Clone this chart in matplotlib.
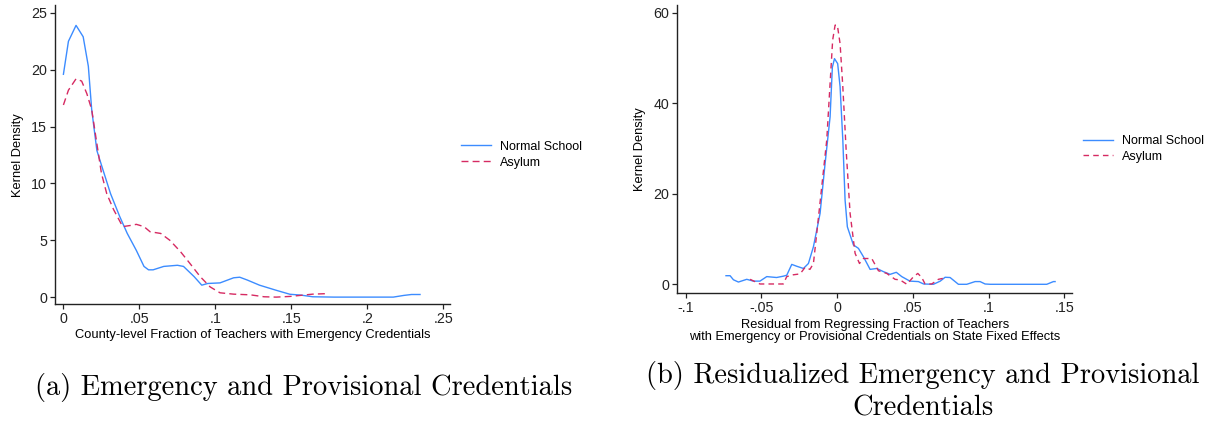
import numpy as np
import matplotlib
matplotlib.use("Agg")
import matplotlib.pyplot as plt

# ---- data ----
# panel (a): county-level fraction of teachers with emergency credentials
a_normal_x = [0.0, 0.0033, 0.0083, 0.013, 0.0164, 0.0186, 0.022, 0.026, 0.031, 0.037, 0.042,
              0.048, 0.053, 0.056, 0.059, 0.066, 0.075, 0.079, 0.086, 0.091, 0.095, 0.103,
              0.112, 0.116, 0.121, 0.129, 0.14, 0.149, 0.156, 0.164, 0.178, 0.217, 0.224,
              0.229, 0.2346]
a_normal_y = [19.6, 22.5, 23.9, 22.9, 20.3, 16.5, 12.9, 11.2, 9.1, 7.1, 5.6,
              4.1, 2.7, 2.4, 2.4, 2.7, 2.8, 2.7, 1.8, 1.05, 1.2, 1.25,
              1.7, 1.75, 1.5, 1.05, 0.6, 0.25, 0.18, 0.03, 0.0, 0.0, 0.15,
              0.23, 0.23]
a_asylum_x = [0.0, 0.0033, 0.0083, 0.012, 0.0154, 0.0186, 0.022, 0.025, 0.0285, 0.033, 0.039,
              0.044, 0.048, 0.053, 0.057, 0.064, 0.070, 0.077, 0.083, 0.090, 0.0965, 0.103,
              0.112, 0.123, 0.132, 0.140, 0.149, 0.158, 0.164, 0.172]
a_asylum_y = [16.9, 18.2, 19.2, 19.0, 17.9, 16.5, 13.5, 10.9, 9.1, 7.7, 6.2,
              6.3, 6.4, 6.2, 5.75, 5.6, 5.0, 4.0, 3.0, 1.8, 0.9, 0.38,
              0.26, 0.2, 0.03, 0.0, 0.06, 0.18, 0.26, 0.3]

# panel (b): residualized version
b_normal_x = [-0.0734, -0.0707, -0.0685, -0.0652, -0.0597, -0.0553, -0.051, -0.0465, -0.040,
              -0.0355, -0.0333, -0.030, -0.0268, -0.0223, -0.019, -0.0157, -0.0113, -0.008,
              -0.0047, -0.0032, -0.0018, 0.0003, 0.0019, 0.0037, 0.0052, 0.0067, 0.0107,
              0.014, 0.0173, 0.0217, 0.0261, 0.0305, 0.0349, 0.039, 0.0426, 0.048, 0.0536,
              0.057, 0.0635, 0.068, 0.0712, 0.0745, 0.080, 0.0855, 0.091, 0.0943, 0.0976,
              0.101, 0.1383, 0.1427, 0.1438]
b_normal_y = [1.9, 1.9, 1.0, 0.5, 1.1, 0.7, 0.7, 1.7, 1.5,
              1.8, 2.0, 4.4, 4.0, 3.5, 4.6, 8.3, 15.7, 26.7,
              37.0, 48.0, 49.9, 48.8, 43.7, 31.9, 18.6, 12.7, 8.7,
              7.95, 6.1, 3.3, 3.5, 2.8, 2.2, 2.65, 1.7, 0.7, 0.6,
              0.07, 0.0, 0.7, 1.55, 1.5, 0.0, 0.0, 0.6, 0.6, 0.07,
              0.0, 0.0, 0.6, 0.6]
b_asylum_x = [-0.0575, -0.051, -0.0356, -0.0333, -0.029, -0.0245, -0.0212, -0.018, -0.0157,
              -0.0135, -0.0102, -0.0069, -0.0047, -0.003, -0.0014, 0.0001, 0.0019, 0.0037,
              0.0059, 0.0085, 0.0118, 0.0147, 0.0173, 0.0228, 0.0272, 0.0327, 0.0382,
              0.0415, 0.046, 0.0504, 0.0532, 0.0558, 0.058, 0.0624, 0.0668, 0.0697]
b_asylum_y = [1.1, 0.07, 0.07, 1.7, 2.1, 2.3, 3.75, 3.3, 4.6,
              11.3, 21.6, 31.9, 44.4, 54.0, 57.3, 57.3, 53.2, 43.7,
              29.7, 15.7, 6.85, 4.6, 5.7, 5.7, 3.0, 2.4, 1.1,
              0.96, 0.0, 1.7, 2.4, 1.5, 0.07, 0.07, 1.1, 1.3]

a_xticks = [0, 0.05, 0.1, 0.15, 0.2, 0.25]
a_xlabels = ["0", ".05", ".1", ".15", ".2", ".25"]
a_yticks = [0, 5, 10, 15, 20, 25]
b_xticks = [-0.1, -0.05, 0, 0.05, 0.1, 0.15]
b_xlabels = ["-.1", "-.05", "0", ".05", ".1", ".15"]
b_yticks = [0, 20, 40, 60]

series_names = ["Normal School", "Asylum"]
blue = "#3c8cff"
red = "#d62a62"

plt.rcParams["font.family"] = "Liberation Sans"

fig = plt.figure(figsize=(12.1, 4.29), dpi=100)
ax1 = fig.add_axes([0.0455, 0.291, 0.3265, 0.697])
ax2 = fig.add_axes([0.5598, 0.3177, 0.3262, 0.670])


def style(ax):
    for s in ["top", "right"]:
        ax.spines[s].set_visible(False)
    for s in ["left", "bottom"]:
        ax.spines[s].set_linewidth(1.0)
        ax.spines[s].set_color("#222222")
    ax.tick_params(direction="out", length=3.8, width=0.9, labelsize=10.3,
                   colors="#222222", pad=2)
    ax.set_ylabel("Kernel Density", fontsize=9.3, labelpad=5)


# panel (a)
ax1.plot(a_normal_x, a_normal_y, color=blue, lw=1.0, label=series_names[0])
ax1.plot(a_asylum_x, a_asylum_y, color=red, lw=1.0, dashes=(5, 3), label=series_names[1])
ax1.set_xlim(-0.0055, 0.2544)
ax1.set_ylim(-0.62, 25.68)
ax1.set_xticks(a_xticks, a_xlabels)
ax1.set_yticks(a_yticks)
style(ax1)
ax1.set_xlabel("County-level Fraction of Teachers with Emergency Credentials", fontsize=9.3, labelpad=2)
ax1.legend(loc="center left", bbox_to_anchor=(1.028, 0.5), frameon=False, fontsize=9,
           handlelength=2.4, handletextpad=0.7, borderpad=0, borderaxespad=0, labelspacing=0.3)

# panel (b)
ax2.plot(b_normal_x, b_normal_y, color=blue, lw=1.0, label=series_names[0])
ax2.plot(b_asylum_x, b_asylum_y, color=red, lw=1.0, dashes=(4, 3), label=series_names[1])
ax2.set_xlim(-0.1055, 0.155)
ax2.set_ylim(-1.86, 61.7)
ax2.set_xticks(b_xticks, b_xlabels)
ax2.set_yticks(b_yticks)
style(ax2)
ax2.set_xlabel("Residual from Regressing Fraction of Teachers\n"
               "with Emergency or Provisional Credentials on State Fixed Effects",
               fontsize=9.3, labelpad=3, linespacing=1.0)
ax2.legend(loc="center left", bbox_to_anchor=(1.028, 0.5), frameon=False, fontsize=9,
           handlelength=2.4, handletextpad=0.7, borderpad=0, borderaxespad=0, labelspacing=0.3)

# captions
fig.text(0.251, 0.0956, "(a) Emergency and Provisional Credentials",
         family="cmr10", fontsize=20.5, ha="center", va="center")
fig.text(0.763, 0.0874, "(b) Residualized Emergency and Provisional\nCredentials",
         family="cmr10", fontsize=20.5, ha="center", va="center", linespacing=1.25)

fig.savefig("out.png", dpi=100)
